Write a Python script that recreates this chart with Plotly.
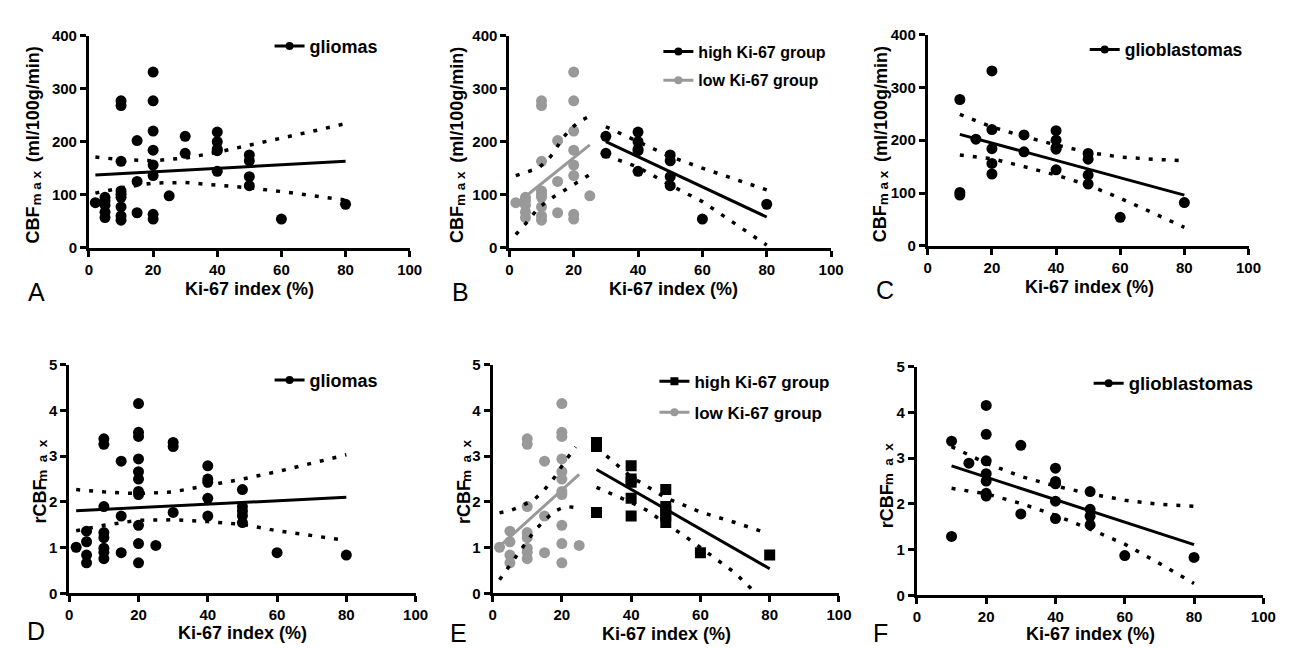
import plotly.graph_objects as go

W, H = 1291, 648
FONT = "Liberation Sans, Arial, sans-serif"
BLACK = "#000000"
GRAY = "#999999"

# ---------------- data ----------------
# CBFmax (ml/100g/min) - low Ki-67 group (gliomas, Ki-67 <= 25 %)
low_ki_cbf = [2, 5, 5, 5, 5, 5, 10, 10, 10, 10, 10, 10, 10, 10, 10,
              15, 15, 15, 20, 20, 20, 20, 20, 20, 20, 20, 25]
low_cbf = [85, 95, 88, 80, 67, 57, 277, 268, 163, 107, 101, 95, 77, 60, 52,
           202, 125, 66, 331, 277, 220, 184, 156, 136, 63, 54, 98]
# CBFmax - high Ki-67 group
high_ki_cbf = [30, 30, 40, 40, 40, 40, 40, 50, 50, 50, 50, 60, 80]
high_cbf = [210, 178, 218, 200, 186, 183, 144, 175, 164, 134, 117, 54, 82]
# CBFmax - glioblastomas
gbm_ki_cbf = [10, 10, 10, 15, 20, 20, 20, 20, 20, 30, 30, 40, 40, 40, 40, 40,
              50, 50, 50, 50, 60, 80]
gbm_cbf = [277, 101, 96, 202, 331, 220, 184, 156, 136, 210, 178, 218, 200, 186,
           183, 144, 175, 164, 134, 117, 54, 82]

# rCBFmax - low Ki-67 group
low_ki_r = [2, 5, 5, 5, 5, 10, 10, 10, 10, 10, 10, 10, 10, 15, 15, 15,
            20, 20, 20, 20, 20, 20, 20, 20, 20, 20, 20, 25]
low_r = [1.01, 1.36, 1.13, 0.84, 0.67, 3.38, 3.26, 1.90, 1.33, 1.22, 0.99, 0.90, 0.76,
         2.89, 1.69, 0.89, 4.15, 3.52, 3.43, 2.94, 2.66, 2.50, 2.23, 2.16, 1.49, 1.09, 0.67,
         1.05]
# rCBFmax - high Ki-67 group
high_ki_r = [30, 30, 30, 40, 40, 40, 40, 40, 50, 50, 50, 50, 50, 60, 80]
high_r = [3.30, 3.21, 1.77, 2.79, 2.50, 2.43, 2.08, 1.69, 2.27, 1.90, 1.80, 1.70, 1.55,
          0.89, 0.84]
# rCBFmax - glioblastomas
gbm_ki_r = [10, 10, 15, 20, 20, 20, 20, 20, 20, 20, 30, 30, 40, 40, 40, 40, 40,
            50, 50, 50, 50, 60, 80]
gbm_r = [3.37, 1.29, 2.89, 4.15, 3.52, 2.94, 2.66, 2.50, 2.23, 2.17, 3.28, 1.78,
         2.78, 2.49, 2.44, 2.06, 1.68, 2.27, 1.88, 1.73, 1.54, 0.87, 0.83]

# regression lines and 95% confidence bands
A_fit_x, A_fit_y = [2, 80], [137, 163]
A_ci_x = [2, 10, 20, 30, 40, 50, 60, 70, 80]
A_ci_up = [171, 166, 164, 169, 180, 193, 206, 220, 234]
A_ci_lo = [103, 113, 122, 123, 118, 113, 106, 98, 90]

B_low_fit_x, B_low_fit_y = [2, 25], [82, 194]
B_low_ci_x = [2, 5, 9, 12, 14, 16, 19, 22, 25]
B_low_ci_up = [136, 142, 150, 166, 181, 202, 224, 239, 248]
B_low_ci_lo = [25, 45, 75, 89, 97, 104, 115, 126, 138]
B_high_fit_x, B_high_fit_y = [30, 80], [200, 58]
B_high_ci_x = [30, 40, 50, 60, 70, 80]
B_high_ci_up = [228, 200, 172, 150, 130, 109]
B_high_ci_lo = [174, 152, 118, 87, 46, 5]

C_fit_x, C_fit_y = [10, 80], [211, 96]
C_ci_x = [10, 20, 30, 40, 50, 60, 70, 80]
C_ci_up = [249, 225, 207, 191, 177, 168, 164, 161]
C_ci_lo = [172, 165, 150, 134, 115, 90, 63, 35]

D_fit_x, D_fit_y = [2, 80], [1.81, 2.10]
D_ci_x = [2, 10, 20, 30, 40, 50, 60, 70, 80]
D_ci_up = [2.27, 2.22, 2.18, 2.22, 2.36, 2.50, 2.66, 2.84, 3.03]
D_ci_lo = [1.37, 1.49, 1.60, 1.61, 1.57, 1.51, 1.37, 1.26, 1.16]

E_low_fit_x, E_low_fit_y = [2, 25], [1.03, 2.60]
E_low_ci_x = [2, 5, 8, 12, 15, 18, 21, 24]
E_low_ci_up = [1.76, 1.81, 1.90, 2.05, 2.27, 2.55, 2.90, 3.20]
E_low_ci_lo = [0.30, 0.62, 0.92, 1.36, 1.60, 1.80, 1.90, 1.88]
E_high_fit_x, E_high_fit_y = [30, 80], [2.71, 0.54]
E_high_ci_up_x = [30, 40, 50, 60, 70, 78]
E_high_ci_up = [3.19, 2.55, 2.09, 1.78, 1.55, 1.35]
E_high_ci_lo_x = [30, 40, 45, 50, 55, 60, 65, 70, 75]
E_high_ci_lo = [2.32, 1.99, 1.80, 1.52, 1.28, 1.01, 0.72, 0.45, 0.08]

F_fit_x, F_fit_y = [10, 80], [2.83, 1.11]
F_ci_x = [10, 20, 30, 40, 50, 60, 70, 80]
F_ci_up = [3.25, 2.89, 2.60, 2.39, 2.22, 2.08, 1.99, 1.95]
F_ci_lo = [2.34, 2.22, 2.01, 1.75, 1.45, 1.12, 0.70, 0.26]

x_ticks = [0, 20, 40, 60, 80, 100]
cbf_ticks = [0, 100, 200, 300, 400]
r_ticks = [0, 1, 2, 3, 4, 5]

# ---------------- figure ----------------
fig = go.Figure()

def px_x(p):
    return p / W

def px_y(p):
    return 1 - p / H

MS = 11
DOT = "4px,9px"

def pts(i, x, y, color, symbol="circle"):
    fig.add_trace(go.Scatter(x=x, y=y, mode="markers", xaxis=f"x{i}", yaxis=f"y{i}",
                             marker=dict(color=color, size=MS, symbol=symbol),
                             showlegend=False, hoverinfo="skip"))

def line(i, x, y, color, dash="solid", width=3):
    fig.add_trace(go.Scatter(x=x, y=y, mode="lines", xaxis=f"x{i}", yaxis=f"y{i}",
                             line=dict(color=color, width=width, dash=dash),
                             showlegend=False, hoverinfo="skip"))

def leg(i, name, color, legend, group, symbol="circle"):
    fig.add_trace(go.Scatter(x=[None], y=[None], mode="lines+markers", name=name,
                             xaxis=f"x{i}", yaxis=f"y{i}",
                             line=dict(color=color, width=3),
                             marker=dict(color=color, size=8, symbol=symbol),
                             legend=legend, legendgroup=group, showlegend=True))

# Panel A
pts(1, low_ki_cbf + high_ki_cbf, low_cbf + high_cbf, BLACK)
line(1, A_fit_x, A_fit_y, BLACK)
line(1, A_ci_x, A_ci_up, BLACK, DOT, 3.5)
line(1, A_ci_x, A_ci_lo, BLACK, DOT, 3.5)
leg(1, "gliomas", BLACK, "legend", "a")

# Panel B
pts(2, low_ki_cbf, low_cbf, GRAY)
pts(2, high_ki_cbf, high_cbf, BLACK)
line(2, B_low_fit_x, B_low_fit_y, GRAY)
line(2, B_low_ci_x, B_low_ci_up, BLACK, DOT, 3.5)
line(2, B_low_ci_x, B_low_ci_lo, BLACK, DOT, 3.5)
line(2, B_high_fit_x, B_high_fit_y, BLACK)
line(2, B_high_ci_x, B_high_ci_up, BLACK, DOT, 3.5)
line(2, B_high_ci_x, B_high_ci_lo, BLACK, DOT, 3.5)
leg(2, "high Ki-67 group", BLACK, "legend2", "b1")
leg(2, "low Ki-67 group", GRAY, "legend2", "b2")

# Panel C
pts(3, gbm_ki_cbf, gbm_cbf, BLACK)
line(3, C_fit_x, C_fit_y, BLACK)
line(3, C_ci_x, C_ci_up, BLACK, DOT, 3.5)
line(3, C_ci_x, C_ci_lo, BLACK, DOT, 3.5)
leg(3, "glioblastomas", BLACK, "legend3", "c")

# Panel D
pts(4, low_ki_r + high_ki_r, low_r + high_r, BLACK)
line(4, D_fit_x, D_fit_y, BLACK)
line(4, D_ci_x, D_ci_up, BLACK, DOT, 3.5)
line(4, D_ci_x, D_ci_lo, BLACK, DOT, 3.5)
leg(4, "gliomas", BLACK, "legend4", "d")

# Panel E
pts(5, low_ki_r, low_r, GRAY)
pts(5, high_ki_r, high_r, BLACK, "square")
line(5, E_low_fit_x, E_low_fit_y, GRAY)
line(5, E_low_ci_x, E_low_ci_up, BLACK, DOT, 3.5)
line(5, E_low_ci_x, E_low_ci_lo, BLACK, DOT, 3.5)
line(5, E_high_fit_x, E_high_fit_y, BLACK)
line(5, E_high_ci_up_x, E_high_ci_up, BLACK, DOT, 3.5)
line(5, E_high_ci_lo_x, E_high_ci_lo, BLACK, DOT, 3.5)
leg(5, "high Ki-67 group", BLACK, "legend5", "e1", "square")
leg(5, "low Ki-67 group", GRAY, "legend5", "e2")

# Panel F
pts(6, gbm_ki_r, gbm_r, BLACK)
line(6, F_fit_x, F_fit_y, BLACK)
line(6, F_ci_x, F_ci_up, BLACK, DOT, 3.5)
line(6, F_ci_x, F_ci_lo, BLACK, DOT, 3.5)
leg(6, "glioblastomas", BLACK, "legend6", "f")

# ---------------- axes ----------------
panels = {
    1: (78, 403, 19, 237, cbf_ticks, [0, 400]),
    2: (504, 830, 19, 237, cbf_ticks, [0, 400]),
    3: (928, 1253, 18, 235, cbf_ticks, [0, 400]),
    4: (58, 409, 357, 592, r_ticks, [0, 5]),
    5: (487, 838, 357, 592, r_ticks, [0, 5]),
    6: (917, 1268, 359, 594, r_ticks, [0, 5]),
}

tickfont = dict(family=FONT, size=15, color=BLACK, weight="bold")
axis_common = dict(showline=True, linewidth=3, linecolor=BLACK, ticks="outside",
                   ticklen=6, tickwidth=3, tickcolor=BLACK, showgrid=False,
                   zeroline=False, tickfont=tickfont, fixedrange=True)

layout_axes = {}
for i, (l, r, t, b, yt, yr) in panels.items():
    sx = "" if i == 1 else str(i)
    layout_axes[f"xaxis{sx}"] = dict(domain=[px_x(l), px_x(r)], range=[0, 100],
                                     tickvals=x_ticks, anchor=f"y{i}", **axis_common)
    layout_axes[f"yaxis{sx}"] = dict(domain=[px_y(b), px_y(t)], range=yr,
                                     tickvals=yt, anchor=f"x{i}", **axis_common)
fig.update_layout(**layout_axes)

# ---------------- legends ----------------
def legend_cfg(left, top, size, gap=5):
    return dict(x=px_x(left), y=px_y(top), xanchor="left", yanchor="top",
                bgcolor="rgba(0,0,0,0)", borderwidth=0, itemwidth=30,
                tracegroupgap=gap, itemclick=False, itemdoubleclick=False,
                font=dict(family=FONT, size=size, color=BLACK, weight="bold"))

fig.update_layout(
    legend=legend_cfg(261, 11, 18),
    legend2=legend_cfg(655, 18, 16, 5),
    legend3=legend_cfg(1087, 15, 17.5),
    legend4=legend_cfg(261, 354, 18),
    legend5=legend_cfg(651, 356, 17, 6),
    legend6=legend_cfg(1091, 357, 18.5),
)

# ---------------- titles and panel letters ----------------
ann = []

def rot(text, size, cx, cy):
    ann.append(dict(text=text, x=px_x(cx), y=px_y(cy), xref="paper", yref="paper",
                    showarrow=False, xanchor="center", yanchor="middle",
                    textangle=-90,
                    font=dict(family=FONT, size=size, color=BLACK, weight="bold")))

title_font = dict(family=FONT, size=18, color=BLACK, weight="bold")
x_titles = [(241, 279), (670, 279), (1092, 277), (234, 633), (663, 634), (1093, 634)]
for (cx, cy) in x_titles:
    ann.append(dict(text="Ki-67 index (%)", x=px_x(cx), y=px_y(cy), xref="paper",
                    yref="paper", showarrow=False, xanchor="center", yanchor="middle",
                    font=title_font))

# y-axis titles: "CBF" + subscript "max" + unit, drawn as rotated text pieces
SUB1 = "m\u00a0a\u00a0x"
SUB2 = "m\u00a0\u00a0a\u00a0\u00a0x"
for dx, dy in [(0, 0), (430, 0), (859, -1)]:
    rot("CBF", 18, 21 + dx, 213.5 + dy)
    rot(SUB1, 13.5, 24.5 + dx, 176 + dy)
    rot("(ml/100g/min)", 18, 21 + dx, 90 + dy)
for dx, dy in [(0, 0), (430, 0), (859, 4)]:
    rot("rCBF", 18, 28 + dx, 498 + dy)
    rot(SUB2, 13.5, 30 + dx, 455 + dy)

letters = [("A", 25, 282), ("B", 454, 282), ("C", 885, 280),
           ("D", 24, 631), ("E", 452, 633), ("F", 880, 633)]
for (txt, cx, cy) in letters:
    ann.append(dict(text=txt, x=px_x(cx), y=px_y(cy), xref="paper", yref="paper",
                    showarrow=False, xanchor="center", yanchor="middle",
                    font=dict(family=FONT, size=25, color=BLACK)))

fig.update_layout(
    annotations=ann,
    width=W, height=H,
    margin=dict(l=0, r=0, t=0, b=0),
    paper_bgcolor="white", plot_bgcolor="white",
    font=dict(family=FONT, color=BLACK),
)

fig.write_html("out.html", include_plotlyjs=True, config={"displayModeBar": False})
